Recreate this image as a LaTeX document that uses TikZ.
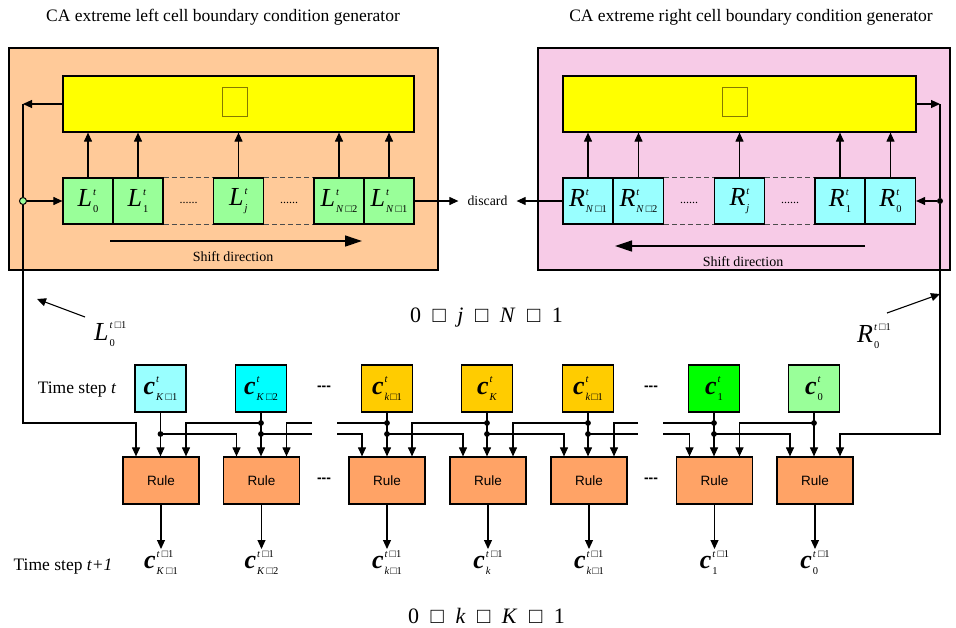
\documentclass[tikz,border=0pt]{standalone}
\usepackage{fontspec}
\setmainfont{Liberation Serif}
\newfontfamily\rulefont{Liberation Sans}
\usetikzlibrary{arrows.meta}

\definecolor{peach}{HTML}{FFCA99}
\definecolor{pinkbg}{HTML}{F7CBE7}
\definecolor{lgreen}{HTML}{99FF99}
\definecolor{lcyan}{HTML}{99FFFF}
\definecolor{fcyan}{HTML}{00FFFF}
\definecolor{fgreen}{HTML}{00FF00}
\definecolor{fyellow}{HTML}{FFFF00}
\definecolor{gold}{HTML}{FFCC00}
\definecolor{ruleor}{HTML}{FFA366}
\definecolor{olive}{HTML}{857A00}

\newcommand{\wsq}{□}
\newsavebox\supbox
\newsavebox\subbox
% superscript and subscript stacked to the right of a large letter
\newcommand{\supsub}[2]{%
  \sbox\supbox{\fontsize{10.5}{11}\selectfont #1}%
  \sbox\subbox{\fontsize{10.5}{11}\selectfont #2}%
  \ifdim\wd\supbox>\wd\subbox
    \makebox[\wd\supbox][l]{\rlap{\raisebox{11.5pt}{\usebox\supbox}}\raisebox{-6pt}{\usebox\subbox}}%
  \else
    \makebox[\wd\subbox][l]{\rlap{\raisebox{11.5pt}{\usebox\supbox}}\raisebox{-6pt}{\usebox\subbox}}%
  \fi}
\newcommand{\sym}[3]{{\fontsize{26}{26}\selectfont\itshape #1}\kern1pt\supsub{#2}{#3}}
\newcommand{\csym}[3]{{\fontsize{26}{26}\selectfont\bfseries\itshape #1}\kern1pt\supsub{#2}{#3}}
\newcommand{\supt}{\textit{t}}
\newcommand{\tpo}{\textit{t}\kern2pt\wsq1}

\begin{document}
\begin{tikzpicture}[x=1pt,y=-1pt,
  title/.style={anchor=base, font=\fontsize{17.5}{17.5}\selectfont, inner sep=0},
  panel/.style={draw, line width=2pt, inner sep=0, minimum height=222pt},
  ybox/.style={draw, line width=1.2pt, fill=fyellow, inner sep=0, minimum height=56pt},
  sqbox/.style={draw=olive, line width=1pt, fill=fyellow, inner sep=0, minimum width=25pt, minimum height=29pt},
  regbox/.style={draw, line width=1.2pt, inner sep=0, minimum width=50pt, minimum height=46pt},
  ccell/.style={draw, line width=1.2pt, inner sep=0, minimum width=51pt, minimum height=47pt},
  rulebox/.style={draw, line width=1.2pt, fill=ruleor, inner sep=0, minimum width=76pt, minimum height=47pt,
    font=\rulefont\fontsize{13.5}{13.5}\selectfont},
  wire/.style={line width=1.1pt},
  arr/.style={wire, -{Triangle[length=9pt,width=8pt]}},
  bigarr/.style={line width=1.3pt, -{Triangle[length=17pt,width=11pt]}},
  dashln/.style={line width=0.9pt, black!70, dash pattern=on 5pt off 3pt},
  dots/.style={anchor=base, font=\fontsize{12}{12}\selectfont, inner sep=0},
  shiftlbl/.style={anchor=base, font=\fontsize{14}{14}\selectfont, inner sep=0},
  gapdash/.style={font=\rulefont\bfseries\fontsize{14}{14}\selectfont, inner sep=0},
  lbl/.style={font=\fontsize{13.8}{13.8}\selectfont},
  outlbl/.style={anchor=north, inner sep=1pt},
  dot/.style={circle, fill, inner sep=0, minimum size=6pt}
]
\useasboundingbox (0,0) rectangle (956,627);

% ---------- headings ----------
\node[title] (tl) at (223,21) {CA extreme left cell boundary condition generator};
\node[title] (tr) at (751,21) {CA extreme right cell boundary condition generator};

% ---------- left boundary generator ----------
\node[panel, fill=peach, minimum width=429pt] (lp) at (223.5,159) {};
\node[ybox, minimum width=351pt] (yl) at (238.5,104) {};
\node[sqbox] (ql) at (234.5,101.5) {};

\node[regbox, fill=lgreen] (L0)  at (88,201)    {\sym{L}{\supt}{0}};
\node[regbox, fill=lgreen] (L1)  at (138,201)   {\sym{L}{\supt}{1}};
\node[regbox, fill=lgreen] (Lj)  at (238.5,201) {\sym{L}{\supt}{\textit{j}}};
\node[regbox, fill=lgreen] (LN2) at (339,201)   {\sym{L}{\supt}{\textit{N}\kern2pt\wsq2}};
\node[regbox, fill=lgreen] (LN1) at (389,201)   {\sym{L}{\supt}{\textit{N}\kern2pt\wsq1}};

\draw[dashln] (L1.north east) -- (Lj.north west);
\draw[dashln] (L1.south east) -- (Lj.south west);
\draw[dashln] (Lj.north east) -- (LN2.north west);
\draw[dashln] (Lj.south east) -- (LN2.south west);
\node[dots] (ld1) at (188.5,203) {......};
\node[dots] (ld2) at (289,203) {......};

\foreach \c in {L0,L1,Lj,LN2,LN1}
  \draw[arr] (\c.north) -- (\c.north |- yl.south);

\coordinate (sl1) at (110,241);
\coordinate (sl2) at (362,241);
\draw[bigarr] (sl1) -- (sl2);
\node[shiftlbl] (sdl) at (233,261) {Shift direction};

% ---------- right boundary generator ----------
\node[panel, fill=pinkbg, minimum width=412pt] (rp) at (744,159) {};
\node[ybox, minimum width=353pt] (yr) at (739.5,104) {};
\node[sqbox] (qr) at (734.5,101.5) {};

\node[regbox, fill=lcyan] (RN1) at (588,201)   {\sym{R}{\supt}{\textit{N}\kern2pt\wsq1}};
\node[regbox, fill=lcyan] (RN2) at (638.5,201) {\sym{R}{\supt}{\textit{N}\kern2pt\wsq2}};
\node[regbox, fill=lcyan] (Rj)  at (739.5,201) {\sym{R}{\supt}{\textit{j}}};
\node[regbox, fill=lcyan] (R1)  at (840,201)   {\sym{R}{\supt}{1}};
\node[regbox, fill=lcyan] (R0)  at (890.5,201) {\sym{R}{\supt}{0}};

\draw[dashln] (RN2.north east) -- (Rj.north west);
\draw[dashln] (RN2.south east) -- (Rj.south west);
\draw[dashln] (Rj.north east) -- (R1.north west);
\draw[dashln] (Rj.south east) -- (R1.south west);
\node[dots] (rd1) at (689,203) {......};
\node[dots] (rd2) at (790,203) {......};

\foreach \c in {RN1,RN2,Rj,R1,R0}
  \draw[arr] (\c.north) -- (\c.north |- yr.south);

\coordinate (sr1) at (865,246);
\coordinate (sr2) at (615,246);
\draw[bigarr] (sr1) -- (sr2);
\node[shiftlbl] (sdr) at (743,266) {Shift direction};

% ---------- discarded cells ----------
\node[lbl, inner xsep=9pt, inner ysep=0] (disc) at (487.5,201) {discard};
\draw[arr] (LN1.east) -- (disc.west);
\draw[arr] (RN1.west) -- (disc.east);

% ---------- index ranges ----------
\node[anchor=base, font=\fontsize{22}{22}\selectfont] (jr) at (486.5,322)
  {0\hspace{11.5pt}\wsq\hspace{11.5pt}\textit{j}\hspace{11.5pt}\wsq\hspace{11.5pt}\textit{N}\hspace{11.5pt}\wsq\hspace{11.5pt}1};
\node[anchor=base, font=\fontsize{22}{22}\selectfont] (kr) at (486.5,623)
  {0\hspace{11.5pt}\wsq\hspace{11.5pt}\textit{k}\hspace{11.5pt}\wsq\hspace{11.5pt}\textit{K}\hspace{11.5pt}\wsq\hspace{11.5pt}1};

% ---------- boundary values for the next step ----------
\node[anchor=base west, inner sep=2pt] (Lnext) at (92,340) {\sym{L}{\tpo}{0}};
\node[anchor=base west, inner sep=2pt] (Rnext) at (855,342) {\sym{R}{\tpo}{0}};
\coordinate (Lt) at (85,317);
\coordinate (Lh) at (37,299);
\coordinate (Rt) at (887,313);
\coordinate (Rh) at (940,294);
\draw[arr] (Lt) -- (Lh);
\draw[arr] (Rt) -- (Rh);

% ---------- time step t ----------
\node[anchor=base, font=\fontsize{17.5}{17.5}\selectfont] (ts1) at (77,393) {Time step \textit{t}};

\node[ccell, fill=lcyan]   (cK1) at (160.5,388.5) {\csym{c}{\supt}{\textit{K}\kern2pt\wsq1}};
\node[ccell, fill=fcyan]   (cK2) at (261,388.5)   {\csym{c}{\supt}{\textit{K}\kern2pt\wsq2}};
\node[ccell, fill=gold]    (ck1a) at (387,388.5)  {\csym{c}{\supt}{\textit{k}\kern1pt\wsq1}};
\node[ccell, fill=gold]    (cK)  at (487,388.5)   {\csym{c}{\supt}{\textit{K}}};
\node[ccell, fill=gold]    (ck1b) at (588,388.5)  {\csym{c}{\supt}{\textit{k}\kern1pt\wsq1}};
\node[ccell, fill=fgreen]  (c1)  at (714,388.5)   {\csym{c}{\supt}{1}};
\node[ccell, fill=lgreen]  (c0)  at (814,388.5)   {\csym{c}{\supt}{0}};
\node[gapdash] (g1) at (324,388) {-{}-{}-};
\node[gapdash] (g2) at (651,388) {-{}-{}-};

% ---------- rule blocks ----------
\node[rulebox] (r1) at (161,480.5)   {Rule};
\node[rulebox] (r2) at (261.5,480.5) {Rule};
\node[rulebox] (r3) at (387,480.5)   {Rule};
\node[rulebox] (r4) at (488,480.5)   {Rule};
\node[rulebox] (r5) at (589,480.5)   {Rule};
\node[rulebox] (r6) at (714.5,480.5) {Rule};
\node[rulebox] (r7) at (815,480.5)   {Rule};
\node[gapdash] (g3) at (324,480) {-{}-{}-};
\node[gapdash] (g4) at (651,480) {-{}-{}-};

% wiring levels and the breaks in the buses
\coordinate (up) at (0,423);
\coordinate (lo) at (0,434);
\coordinate (bA) at (312,0);
\coordinate (bB) at (337,0);
\coordinate (bC) at (638,0);
\coordinate (bD) at (663,0);

% own state into each rule
\draw[arr] (cK1.south) -- (cK1.south |- r1.north);
\draw[arr] (cK2.south) -- (cK2.south |- r2.north);
\draw[arr] (ck1a.south) -- (ck1a.south |- r3.north);
\draw[arr] (cK.south) -- (cK.south |- r4.north);
\draw[arr] (ck1b.south) -- (ck1b.south |- r5.north);
\draw[arr] (c1.south) -- (c1.south |- r6.north);
\draw[arr] (c0.south) -- (c0.south |- r7.north);

% right-hand neighbour (upper bus)
\draw[arr] (cK2.south |- up) -| ([xshift=25pt]r1.north);
\draw[arr] (bA |- up) -| ([xshift=25pt]r2.north);
\draw[wire] (ck1a.south |- up) -- (bB |- up);
\draw[arr] (cK.south |- up) -| ([xshift=25pt]r3.north);
\draw[arr] (ck1b.south |- up) -| ([xshift=25pt]r4.north);
\draw[arr] (bC |- up) -| ([xshift=25pt]r5.north);
\draw[wire] (c1.south |- up) -- (bD |- up);
\draw[arr] (c0.south |- up) -| ([xshift=25pt]r6.north);

% left-hand neighbour (lower bus)
\draw[arr] (cK1.south |- lo) -| ([xshift=-25pt]r2.north);
\draw[wire] (cK2.south |- lo) -- (bA |- lo);
\draw[arr] (bB |- lo) -| ([xshift=-25pt]r3.north);
\draw[arr] (ck1a.south |- lo) -| ([xshift=-25pt]r4.north);
\draw[arr] (cK.south |- lo) -| ([xshift=-25pt]r5.north);
\draw[wire] (ck1b.south |- lo) -- (bC |- lo);
\draw[arr] (bD |- lo) -| ([xshift=-25pt]r6.north);
\draw[arr] (c1.south |- lo) -| ([xshift=-25pt]r7.north);

% junction dots
\foreach \c in {cK2,ck1a,cK,ck1b,c1,c0}
  \fill (\c.south |- up) circle (2.9);
\foreach \c in {cK1,cK2,ck1a,cK,ck1b,c1}
  \fill (\c.south |- lo) circle (2.9);

% ---------- boundary feedback ----------
\coordinate (fl) at (23,104);
\draw[arr] (yl.west) -- (fl);
\node[circle, draw, fill=lgreen, line width=1pt, inner sep=0, minimum size=7pt] (tap) at (23,201) {};
\draw[wire] (fl) -- (tap.north);
\draw[arr] (tap.east) -- (L0.west);
\draw[arr] (tap.south) -- (tap |- up) -| ([xshift=-25pt]r1.north);

\coordinate (fr) at (940,104);
\draw[arr] (yr.east) -- (fr);
\node[dot] (rtap) at (940,201) {};
\draw[wire] (fr) -- (rtap);
\draw[arr] (rtap) -- (R0.east);
\draw[arr] (rtap) -- (rtap |- lo) -| ([xshift=25pt]r7.north);

% ---------- time step t+1 ----------
\node[anchor=base, font=\fontsize{17.5}{17.5}\selectfont] (ts2) at (63,570) {Time step \textit{t+1}};

\node[outlbl] (o1) at (161,549)   {\csym{c}{\tpo}{\textit{K}\kern2pt\wsq1}};
\node[outlbl] (o2) at (261.5,549) {\csym{c}{\tpo}{\textit{K}\kern2pt\wsq2}};
\node[outlbl] (o3) at (387,549)   {\csym{c}{\tpo}{\textit{k}\kern1pt\wsq1}};
\node[outlbl] (o4) at (488,549)   {\csym{c}{\tpo}{\textit{k}}};
\node[outlbl] (o5) at (589,549)   {\csym{c}{\tpo}{\textit{k}\kern1pt\wsq1}};
\node[outlbl] (o6) at (714.5,549) {\csym{c}{\tpo}{1}};
\node[outlbl] (o7) at (815,549)   {\csym{c}{\tpo}{0}};
\foreach \i in {1,...,7}
  \draw[arr] (r\i.south) -- (r\i.south |- o\i.north);

\end{tikzpicture}
\end{document}
